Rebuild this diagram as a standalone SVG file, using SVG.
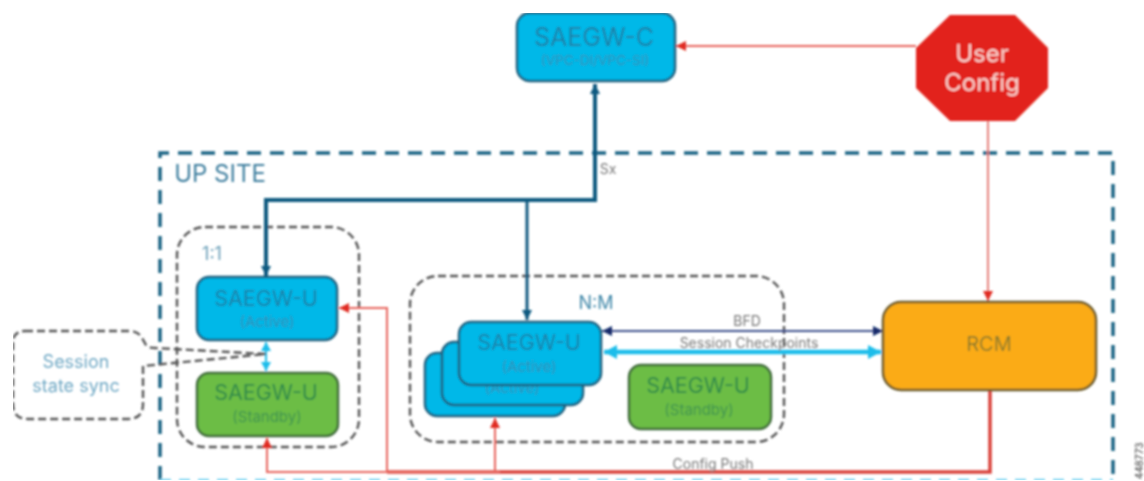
<svg xmlns="http://www.w3.org/2000/svg" width="1144" height="481" viewBox="0 0 1144 481">
<style>
text{font-family:"Inter","Liberation Sans",sans-serif;text-anchor:middle}
.blue{fill:#00b8e8;stroke:#1b5f7e;stroke-width:2.5}
.green{fill:#6cbd45;stroke:#3f6b3a;stroke-width:2.5}
.group{fill:none;stroke:#555;stroke-width:2.4;stroke-dasharray:8 4}
.t{font-size:21.5px}
.tb{fill:#1a7fa6}.tg{fill:#2f8a4a}
.s{font-size:15px}
.sb{fill:#2f8db3}.sg{fill:#3f9450}
.lab{font-size:14px;fill:#777}
.dark{fill:none;stroke:#0f5a80;stroke-width:4}
.red{fill:none;stroke:#e8655d;stroke-width:2}
.redt{fill:none;stroke:#d9403a;stroke-width:3.5}
</style>
<defs>
<filter id="soft" x="0" y="0" width="100%" height="100%"><feGaussianBlur stdDeviation="1"/></filter>
<marker id="ar" markerUnits="userSpaceOnUse" markerWidth="12" markerHeight="12" refX="10" refY="5" orient="auto-start-reverse"><path d="M0 0L10 5L0 10z" fill="#e02b20"/></marker>
<marker id="ad" markerUnits="userSpaceOnUse" markerWidth="12" markerHeight="12" refX="10" refY="5" orient="auto-start-reverse"><path d="M0 0L10 5L0 10z" fill="#0f5a80"/></marker>
<marker id="an" markerUnits="userSpaceOnUse" markerWidth="12" markerHeight="12" refX="10" refY="5" orient="auto-start-reverse"><path d="M0 0L10 5L0 10z" fill="#14296b"/></marker>
<marker id="ac" markerUnits="userSpaceOnUse" markerWidth="14" markerHeight="16" refX="13" refY="7" orient="auto-start-reverse"><path d="M0 0L13 7L0 14z" fill="#1fbdea"/></marker>
<marker id="as" markerUnits="userSpaceOnUse" markerWidth="12" markerHeight="12" refX="9" refY="5" orient="auto-start-reverse"><path d="M0 0L9 5L0 10z" fill="#1fbdea"/></marker>
</defs>
<rect width="1144" height="481" fill="#fff"/>
<g filter="url(#soft)">
<g id="up-site">
<path d="M160 480V153H1113V480" fill="none" stroke="#1b6384" stroke-width="3.5" stroke-dasharray="14 9"/>
<path d="M160 480H1113" fill="none" stroke="#7fd6f2" stroke-width="2.5" stroke-dasharray="11 8"/>
<text x="220" y="182" font-size="24" fill="#3f7f9f">UP SITE</text>
</g>
<g id="group-1-1">
<rect class="group" x="177" y="227" width="182" height="220" rx="28"/>
<text x="212" y="260" font-size="18" fill="#6a9fb8">1:1</text>
</g>
<g id="group-n-m">
<rect class="group" x="410" y="276" width="374" height="166" rx="28"/>
<text x="596" y="309" font-size="18" fill="#3f87a8">N:M</text>
</g>
<g id="connectors">
<path class="dark" d="M595 84V200H266V276" marker-start="url(#ad)" marker-end="url(#ad)"/>
<path d="M527 200V320" fill="none" stroke="#0f5a80" stroke-width="3" marker-end="url(#ad)"/>
<path class="red" d="M916 46H676" marker-end="url(#ar)"/>
<path d="M988 121V301" fill="none" stroke="#e4736c" stroke-width="1.8" marker-end="url(#ar)"/>
<path class="redt" d="M990 390V472H387"/>
<path class="red" d="M500 472H267V438" marker-end="url(#ar)"/>
<path class="red" d="M387 472V308H339" marker-end="url(#ar)"/>
<path class="red" d="M495 472V418" marker-end="url(#ar)"/>
<path d="M602 331H883" fill="none" stroke="#3c4f8c" stroke-width="2" marker-start="url(#an)" marker-end="url(#an)"/>
<path d="M604 352H881" fill="none" stroke="#1fbdea" stroke-width="4.5" marker-start="url(#ac)" marker-end="url(#ac)"/>
<path d="M266 342V371" fill="none" stroke="#1fbdea" stroke-width="2" marker-start="url(#as)" marker-end="url(#as)"/>
<text x="608" y="174" class="lab">Sx</text>
<text x="747" y="326" class="lab">BFD</text>
<text x="749" y="348" class="lab">Session Checkpoints</text>
<text x="713" y="469" class="lab">Config Push</text>
</g>
<g id="saegw-c">
<rect class="blue" x="517" y="13" width="158" height="68" rx="13"/>
<text x="594" y="46" font-size="25" fill="#1a7fa6">SAEGW-C</text>
<text x="595" y="65" font-size="13.5" fill="#2f8db3">(VPC-DI/VPC-SI)</text>
</g>
<g id="user-config">
<path d="M950 15H1015L1048 48V88L1015 121H950L916 88V48z" fill="#e2231a"/>
<text x="982" y="62" font-size="24" fill="#fbd5d0">User</text>
<text x="982" y="91" font-size="24" fill="#fbd5d0">Config</text>
</g>
<g id="saegw-u-active-1">
<rect class="blue" x="197" y="277" width="140" height="63" rx="12"/>
<text x="266" y="306" class="t tb">SAEGW-U</text>
<text x="267" y="327" class="s sb">(Active)</text>
</g>
<g id="saegw-u-standby-1">
<rect class="green" x="197" y="373" width="141" height="63" rx="12"/>
<text x="266" y="400" class="t tg">SAEGW-U</text>
<text x="267" y="422" class="s sg">(Standby)</text>
</g>
<g id="session-sync">
<path class="group" d="M25 331H130Q138 331 142 338L146 345Q149 348 155 348L266 354L143 366V404Q143 419 128 419H28Q13 419 13 404V343Q13 331 25 331z"/>
<text x="76" y="368" font-size="18" fill="#6fa8c4">Session</text>
<text x="76" y="392" font-size="18" fill="#6fa8c4">state sync</text>
</g>
<g id="saegw-u-active-n3">
<rect class="blue" x="425" y="353" width="140" height="63" rx="12"/>
</g>
<g id="saegw-u-active-n2">
<rect class="blue" x="442" y="342" width="141" height="63" rx="12"/>
<text x="512" y="393" class="s sb">(Active)</text>
</g>
<g id="saegw-u-active-n1">
<rect class="blue" x="459" y="322" width="142" height="63" rx="12"/>
<text x="529" y="350" class="t tb">SAEGW-U</text>
<text x="529" y="372" class="s sb">(Active)</text>
</g>
<g id="saegw-u-standby-n">
<rect class="green" x="629" y="365" width="142" height="64" rx="12"/>
<text x="698" y="393" class="t tg">SAEGW-U</text>
<text x="699" y="415" class="s sg">(Standby)</text>
</g>
<g id="rcm">
<rect x="883" y="302" width="213" height="88" rx="18" fill="#fbab18" stroke="#6a5a2a" stroke-width="2.5"/>
<text x="989" y="351" font-size="20" fill="#8a7a2a">RCM</text>
</g>
<text transform="translate(1143 481) rotate(-90)" x="20" y="0" font-size="10" fill="#333">448773</text>
</g>
</svg>
